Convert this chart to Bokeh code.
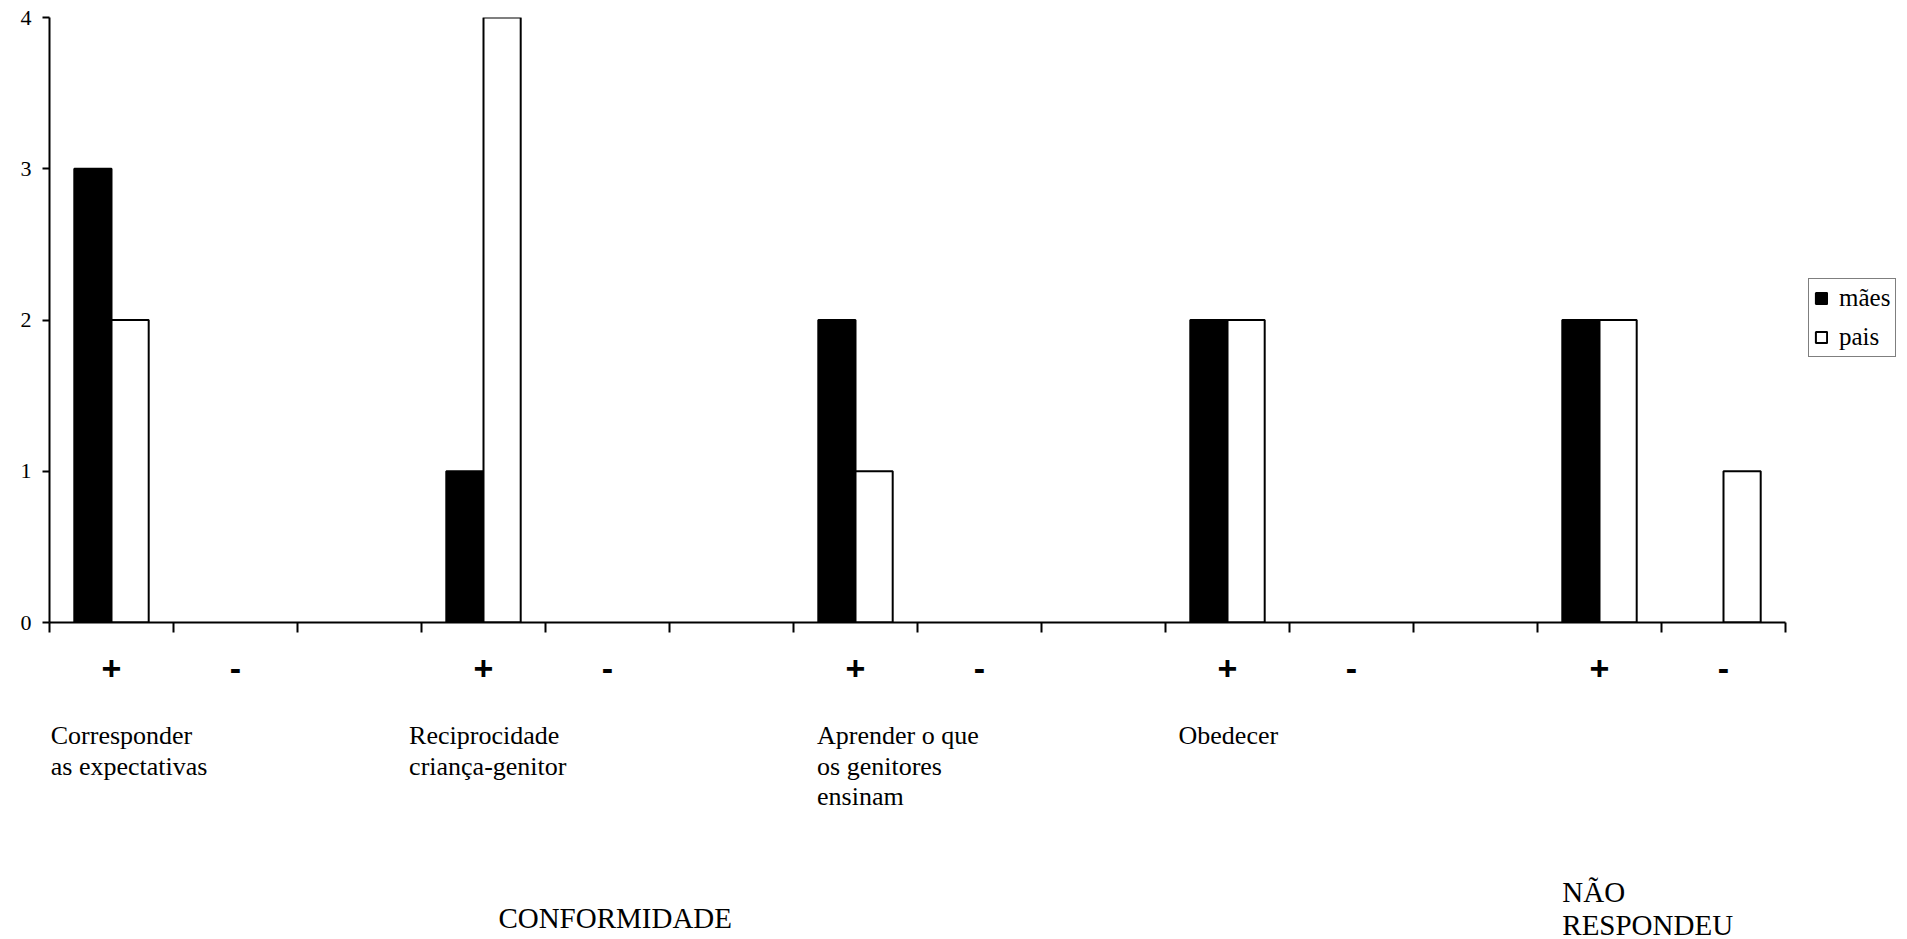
from bokeh.plotting import figure
from bokeh.layouts import column
from bokeh.models import (ColumnDataSource, Range1d, FixedTicker, Legend, LegendItem)
from bokeh.core.properties import value
from bokeh.embed import file_html
from bokeh.resources import INLINE

# ---------------- data ----------------
slot_labels = ["+", "-", "", "+", "-", "", "+", "-", "", "+", "-", "", "+", "-"]
maes = [3, 0, 0, 1, 0, 0, 2, 0, 0, 2, 0, 0, 2, 0]
pais = [2, 0, 0, 4, 0, 0, 1, 0, 0, 2, 0, 0, 2, 1]
series_names = ["mães", "pais"]
y_ticks = [0, 1, 2, 3, 4]

category_texts = [
    ["Corresponder", "as expectativas"],
    ["Reciprocidade", "criança-genitor"],
    ["Aprender o que", "os genitores", "ensinam"],
    ["Obedecer"],
]
group_texts = ["CONFORMIDADE"]
nr_texts = ["NÃO", "RESPONDEU"]

# ---------------- geometry (positions, not data) ----------------
n = len(slot_labels)
centers = [i + 0.5 for i in range(n)]
bar_w = 0.3
W, H = 1907, 939
LEFT, TOP = 49, 17
FRAME_H = 605
TOP_BOTTOM = 100
PXX = 124.0           # px per slot
PXY = FRAME_H / 4.0   # px per unit
x_end = (W - LEFT) / PXX
BASE = TOP + FRAME_H  # pixel row of the zero line
SHIFT = 9             # compensation for the lower panel offset


def yval(px):
    return -(px - BASE - SHIFT) / PXY


SERIF = "Liberation Serif"
SANS = "Liberation Sans"

xr = Range1d(0, x_end)
p = figure(frame_width=W - LEFT, frame_height=FRAME_H,
           min_border_left=LEFT, min_border_top=TOP, min_border_bottom=TOP_BOTTOM, min_border_right=0,
           x_range=xr, y_range=Range1d(0, 4),
           output_backend="svg", toolbar_location=None)
p.outline_line_color = None
p.xgrid.visible = False
p.ygrid.visible = False
p.background_fill_color = "white"
p.border_fill_color = "white"

idx_m = [i for i in range(n) if maes[i] > 0]
idx_p = [i for i in range(n) if pais[i] > 0]
src_m = ColumnDataSource(dict(x=[centers[i] - bar_w / 2 for i in idx_m], top=[maes[i] for i in idx_m]))
src_p = ColumnDataSource(dict(x=[centers[i] + bar_w / 2 for i in idx_p], top=[pais[i] for i in idx_p]))

r1 = p.vbar(x="x", top="top", width=bar_w, bottom=0, source=src_m,
            fill_color="black", line_color="black", line_width=2)
r2 = p.vbar(x="x", top="top", width=bar_w, bottom=0, source=src_p,
            fill_color="white", line_color="black", line_width=2)

# y axis
ya = p.yaxis[0]
ya.ticker = FixedTicker(ticks=y_ticks)
ya.axis_line_width = 2
ya.axis_line_color = "black"
ya.major_tick_out = 7
ya.major_tick_in = 0
ya.major_tick_line_width = 2
ya.major_tick_line_color = "black"
ya.minor_tick_line_color = None
ya.major_label_text_font = SERIF
ya.major_label_text_font_size = "22px"
ya.major_label_text_color = "black"
ya.major_label_standoff = 11

# x axis: major ticks at slot centres carry +/- labels, minor ticks at slot boundaries
xa = p.xaxis[0]
xa.bounds = (0, n)
xa.ticker = FixedTicker(ticks=centers, minor_ticks=list(range(n + 1)))
xa.major_label_overrides = {c: lab for c, lab in zip(centers, slot_labels)}
xa.axis_line_width = 2
xa.axis_line_color = "black"
xa.major_tick_out = 0
xa.major_tick_in = 0
xa.major_tick_line_color = None
xa.minor_tick_out = 10
xa.minor_tick_in = 0
xa.minor_tick_line_width = 2
xa.minor_tick_line_color = "black"
xa.major_label_text_font = SANS
xa.major_label_text_font_style = "bold"
xa.major_label_text_font_size = "34px"
xa.major_label_text_color = "black"
xa.major_label_standoff = 24

legend = Legend(items=[LegendItem(label=series_names[0], renderers=[r1]),
                       LegendItem(label=series_names[1], renderers=[r2])],
                location=(1759, 265))
legend.label_text_font = SERIF
legend.label_text_font_size = "25px"
legend.label_text_color = "black"
legend.glyph_width = 14
legend.glyph_height = 14
legend.label_height = 26
legend.label_standoff = 11
legend.padding = 5
legend.spacing = 11
legend.margin = 0
legend.border_line_color = "black"
legend.border_line_width = 1.5
legend.background_fill_color = "white"
legend.background_fill_alpha = 1
p.add_layout(legend, "center")

# ---------------- lower panel with category texts ----------------
top_h = TOP + FRAME_H + TOP_BOTTOM
low_h = H - top_h
y_hi = -(top_h - BASE) / PXY
y_lo = y_hi - low_h / PXY
q = figure(frame_width=W - LEFT, frame_height=low_h,
           min_border_left=LEFT, min_border_right=0, min_border_top=0, min_border_bottom=0,
           x_range=xr, y_range=Range1d(y_lo, y_hi),
           x_axis_location=None, y_axis_location=None,
           output_backend="svg", toolbar_location=None)
q.outline_line_color = None
q.xgrid.visible = False
q.ygrid.visible = False
q.background_fill_color = "white"
q.border_fill_color = "white"

cat_x = [0.01, 2.90, 6.19, 9.105]
line_px = [744, 775, 805]
tx, ty, tt = [], [], []
for cx, lines in zip(cat_x, category_texts):
    for lp, t in zip(line_px, lines):
        tx.append(cx); ty.append(yval(lp)); tt.append(t)
q.text(x=tx, y=ty, text=tt, text_font=value(SERIF), text_font_size="26px",
       text_color="black", text_align="left", text_baseline="alphabetic")

big_x = [3.62, 12.20, 12.20]
big_y = [yval(926), yval(900), yval(933)]
big_t = group_texts + nr_texts
q.text(x=big_x, y=big_y, text=big_t, text_font=value(SERIF), text_font_size="29px",
       text_color="black", text_align="left", text_baseline="alphabetic")

layout = column(p, q, spacing=0)
open("out.html", "w").write(file_html(layout, INLINE))
